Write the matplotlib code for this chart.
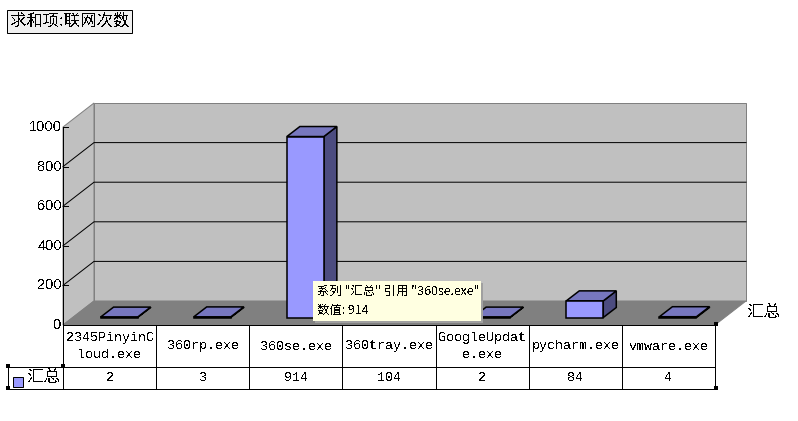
import matplotlib
matplotlib.use("Agg")
import matplotlib.pyplot as plt
from matplotlib.patches import Polygon, Rectangle

plt.rcParams['font.family'] = ['Noto Sans CJK SC', 'DejaVu Sans']
plt.rcParams['text.antialiased'] = False

categories = ["2345PinyinC\nloud.exe", "360rp.exe", "360se.exe", "360tray.exe",
              "GoogleUpdat\ne.exe", "pycharm.exe", "vmware.exe"]
values = [2, 3, 914, 104, 2, 84, 4]
y_ticks = [0, 200, 400, 600, 800, 1000]
series_name = "汇总"
title = "求和项:联网次数"

# layout of the fake 3D box, in pixels
LEFT, RIGHT = 63, 715
FLOOR = 325
DX, DY = 31, -24
PX_PER_UNIT = 0.198
COL_W = (RIGHT - LEFT) / len(values)
BAR_W, BAR_DX, BAR_DY = 37, 13, -10
BAR_BASE = 317.5

FRONT = "#9999FF"
TOP = "#7777BF"
SIDE = "#4C4C80"
WALL = "#C0C0C0"
GREY = "#808080"
px = 0.72  # one pixel in points at dpi 100


def front_y(v):
    return FLOOR - v * PX_PER_UNIT


fig = plt.figure(figsize=(7.98, 4.21), dpi=100)
ax = fig.add_axes([0, 0, 1, 1])
ax.set_xlim(0, 798)
ax.set_ylim(421, 0)
ax.axis("off")

# walls and floor
top = front_y(max(y_ticks))
ax.add_patch(Polygon([(LEFT, FLOOR), (LEFT, top), (LEFT + DX, top + DY), (LEFT + DX, FLOOR + DY)],
                     fc=WALL, ec=GREY, lw=px))
ax.add_patch(Rectangle((LEFT + DX, top + DY), RIGHT - LEFT, FLOOR - top,
                       fc=WALL, ec=GREY, lw=px))
ax.add_patch(Polygon([(LEFT, FLOOR), (RIGHT, FLOOR), (RIGHT + DX, FLOOR + DY), (LEFT + DX, FLOOR + DY)],
                     fc=GREY, ec=GREY, lw=px))

# gridlines, ticks and labels
for t in y_ticks:
    y = front_y(t)
    if 0 < t < max(y_ticks):
        ax.plot([LEFT, LEFT + DX, RIGHT + DX], [y, y + DY, y + DY], color="black", lw=px)
    ax.plot([LEFT, LEFT + 5], [y, y], color="black", lw=px)
    ax.text(LEFT - 1, y, str(t), ha="right", va="center", fontsize=10.5,
            family="Liberation Sans")
ax.plot([LEFT, LEFT], [top, FLOOR], color="black", lw=px)

# bars
for i, v in enumerate(values):
    x0 = LEFT + COL_W * i + COL_W / 2 + 9.5 - BAR_W / 2
    x1 = x0 + BAR_W
    yb = BAR_BASE
    yt = BAR_BASE - v * PX_PER_UNIT
    ax.add_patch(Polygon([(x1, yb), (x1 + BAR_DX, yb + BAR_DY), (x1 + BAR_DX, yt + BAR_DY), (x1, yt)],
                         fc=SIDE, ec="black", lw=1.1, joinstyle="miter", zorder=3))
    ax.add_patch(Polygon([(x0, yt), (x1, yt), (x1 + BAR_DX, yt + BAR_DY), (x0 + BAR_DX, yt + BAR_DY)],
                         fc=TOP, ec="black", lw=1.1, joinstyle="miter", zorder=3))
    ax.add_patch(Rectangle((x0, yt), BAR_W, yb - yt, fc=FRONT, ec="black", lw=1.1, zorder=3))

# data table under the chart
ROW1, ROW2 = 367, 389
table_font = {"family": ["Liberation Mono", "Noto Sans CJK SC"], "fontsize": 9.6}
ax.plot([LEFT, RIGHT], [FLOOR, FLOOR], color="black", lw=px, zorder=4)
ax.plot([8, RIGHT], [ROW1, ROW1], color="black", lw=px, zorder=4)
ax.plot([8, RIGHT], [ROW2, ROW2], color="black", lw=px, zorder=4)
ax.plot([8, 8], [ROW1, ROW2], color="black", lw=px, zorder=4)
for i in range(len(values) + 1):
    x = LEFT + COL_W * i
    ax.plot([x, x], [FLOOR, ROW2], color="black", lw=px, zorder=4)
for i, (c, v) in enumerate(zip(categories, values)):
    xc = LEFT + COL_W * (i + 0.5)
    ax.text(xc, (FLOOR + ROW1) / 2 + 0.5, c, ha="center", va="center", linespacing=1.45, **table_font)
    ax.text(xc, (ROW1 + ROW2) / 2, str(v), ha="center", va="center", **table_font)

# legend key in the table and the depth axis label
ax.add_patch(Rectangle((13, 377), 10, 10, fc=FRONT, ec="black", lw=px))
ax.text(43.5, 377.5, series_name, ha="center", va="center", fontsize=12)
ax.text(764, 313, series_name, ha="center", va="center", fontsize=12)

# title box
ax.add_patch(Rectangle((7, 10), 125, 23, fc="#F0F0F0", ec="black", lw=px))
ax.text(70, 21, title, ha="center", va="center", fontsize=11.8)

# selection handles
for hx, hy in [(8, 366), (8, 388), (63, 366), (716, 324), (716, 388)]:
    ax.add_patch(Rectangle((hx - 2, hy - 2), 4, 4, fc="black", ec="none", zorder=6))

# tooltip over the 360se bar
ax.add_patch(Rectangle((315, 283), 168, 40, fc="#A0A0A0", ec="none", zorder=7))
ax.add_patch(Rectangle((313, 281), 168, 40, fc="#FFFFE1", ec="none", zorder=8))
ax.text(317, 291, f'系列 "{series_name}" 引用 "360se.exe"', ha="left", va="center",
        fontsize=8.9, zorder=9)
ax.text(317, 310, f"数值: {values[2]}", ha="left", va="center", fontsize=8.9, zorder=9)

fig.savefig("out.png", dpi=100)
